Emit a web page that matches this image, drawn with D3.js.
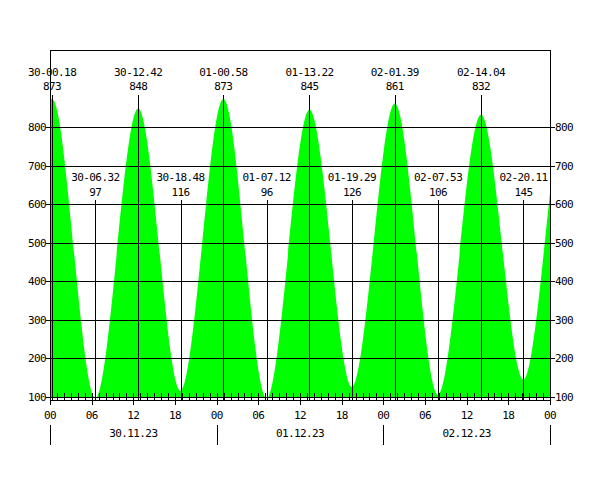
<!DOCTYPE html>
<html>
<head>
<meta charset="utf-8">
<script src="https://cdn.jsdelivr.net/npm/d3@7"></script>
<style>
  html, body { margin: 0; padding: 0; background: #fff; }
  svg text { font-family: "DejaVu Sans Mono", "Liberation Mono", monospace; font-size: 11px; letter-spacing: -0.6px; fill: #000; }
</style>
</head>
<body>
<svg id="chart" width="600" height="500"></svg>
<script>
// ---- data ----
const dayLabels = ["30.11.23", "01.12.23", "02.12.23"];
const hourTickLabels = ["00", "06", "12", "18"];
const yTickValues = [100, 200, 300, 400, 500, 600, 700, 800];
const highTimes = ["30-00.18", "30-12.42", "01-00.58", "01-13.22", "02-01.39", "02-14.04"];
const highValues = [873, 848, 873, 845, 861, 832];
const lowTimes = ["30-06.32", "30-18.48", "01-07.12", "01-19.29", "02-07.53", "02-20.11"];
const lowValues = [97, 116, 96, 126, 106, 145];
// estimated extremes just outside the visible window (curve continues to the edges)
const outsideTimes = ["29-11.50", "29-18.00", "03-02.20", "03-08.40"];
const outsideValues = [850, 120, 860, 110];
const dayOffsets = { "29": -1, "30": 0, "01": 1, "02": 2, "03": 3 };

// ---- helpers ----
function toHours(s) {
  const d = s.slice(0, 2), hh = +s.slice(3, 5), mm = +s.slice(6, 8);
  return dayOffsets[d] * 24 + hh + mm / 60;
}

const svg = d3.select("#chart");
const x = d3.scaleLinear().domain([0, 72]).range([50, 550]);
const y = d3.scaleLinear().domain([100, 1000]).range([397, 50]);

const highs = highTimes.map((t, i) => ({ label: t, h: toHours(t), v: highValues[i] }));
const lows = lowTimes.map((t, i) => ({ label: t, h: toHours(t), v: lowValues[i] }));
const outs = outsideTimes.map((t, i) => ({ h: toHours(t), v: outsideValues[i] }));
const extremes = highs.concat(lows, outs).sort((a, b) => a.h - b.h);

// clip
svg.append("defs").append("clipPath").attr("id", "plotclip")
  .append("rect").attr("x", 50).attr("y", 50).attr("width", 500).attr("height", 347);

// tide area
const area = d3.area()
  .x(d => x(d.h))
  .y0(y(100))
  .y1(d => y(d.v))
  .curve(d3.curveMonotoneX);
svg.append("path")
  .datum(extremes)
  .attr("clip-path", "url(#plotclip)")
  .attr("fill", "#00ff00")
  .attr("d", area);

const lines = svg.append("g").attr("stroke", "#000").attr("stroke-width", 1).attr("shape-rendering", "crispEdges");

// horizontal grid lines with ticks
yTickValues.forEach(v => {
  lines.append("line").attr("x1", 46).attr("x2", 555).attr("y1", Math.round(y(v)) + 0.5).attr("y2", Math.round(y(v)) + 0.5);
});
svg.append("g").selectAll("text.yl").data(yTickValues).join("text")
  .attr("x", 46).attr("y", d => y(d) + 4).attr("text-anchor", "end").text(d => d);
svg.append("g").selectAll("text.yr").data(yTickValues).join("text")
  .attr("x", 555).attr("y", d => y(d) + 4).attr("text-anchor", "start").text(d => d);

// frame
lines.append("line").attr("x1", 50).attr("x2", 550).attr("y1", 50.5).attr("y2", 50.5);
lines.append("line").attr("x1", 50.5).attr("x2", 50.5).attr("y1", 50).attr("y2", 405);
lines.append("line").attr("x1", 550.5).attr("x2", 550.5).attr("y1", 50).attr("y2", 405);
lines.append("line").attr("x1", 50).attr("x2", 551).attr("y1", 400.5).attr("y2", 400.5);

// hourly ticks
d3.range(0, 73).forEach(h => {
  const xx = Math.round(x(h)) + 0.5;
  lines.append("line").attr("x1", xx).attr("x2", xx).attr("y1", 393).attr("y2", h % 6 === 0 ? 405 : 400);
});

// hour labels
const hourTicks = d3.range(0, 73, 6);
svg.append("g").selectAll("text").data(hourTicks).join("text")
  .attr("x", d => x(d)).attr("y", 419).attr("text-anchor", "middle")
  .text(d => hourTickLabels[(d / 6) % 4]);

// day separators and labels
d3.range(0, 4).forEach(i => {
  const xx = Math.round(x(i * 24)) + 0.5;
  lines.append("line").attr("x1", xx).attr("x2", xx).attr("y1", 425).attr("y2", 445);
});
svg.append("g").selectAll("text").data(dayLabels).join("text")
  .attr("x", (d, i) => x(i * 24 + 12)).attr("y", 437).attr("text-anchor", "middle").text(d => d);

// high tide markers
highs.forEach(d => {
  const xx = Math.round(x(d.h)) + 0.5;
  lines.append("line").attr("x1", xx).attr("x2", xx).attr("y1", 95).attr("y2", 400);
  svg.append("text").attr("x", x(d.h)).attr("y", 76).attr("text-anchor", "middle").text(d.label);
  svg.append("text").attr("x", x(d.h)).attr("y", 90).attr("text-anchor", "middle").text(d.v);
});
// low tide markers
lows.forEach(d => {
  const xx = Math.round(x(d.h)) + 0.5;
  lines.append("line").attr("x1", xx).attr("x2", xx).attr("y1", 200).attr("y2", 400);
  svg.append("text").attr("x", x(d.h)).attr("y", 181).attr("text-anchor", "middle").text(d.label);
  svg.append("text").attr("x", x(d.h)).attr("y", 196).attr("text-anchor", "middle").text(d.v);
});
</script>
</body>
</html>
